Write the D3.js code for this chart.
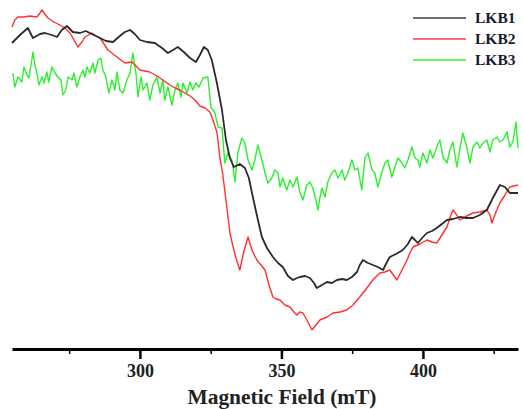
<!DOCTYPE html>
<html>
<head>
<meta charset="utf-8">
<script src="https://cdn.jsdelivr.net/npm/d3@7"></script>
<style>
  body { margin: 0; background: #fff; }
  svg { display: block; }
  .axis text { font-family: "Liberation Serif", "Times New Roman", serif; font-weight: bold; }
</style>
</head>
<body>
<svg id="epr" width="523" height="409"></svg>
<script>
// EPR spectra, field in mT, intensity in arbitrary units
var lkb1Field = [254.8,257.6,260.4,262.2,264.7,266.4,268.9,270.7,272.4,274.2,276.3,278.8,280.9,283.0,285.9,288.0,290.5,292.9,294.7,296.5,298.2,300.0,302.5,305.3,307.8,309.9,311.7,313.4,315.5,317.7,319.8,321.2,322.6,324.0,325.4,327.2,329.0,330.4,331.8,333.2,335.3,337.1,338.5,339.9,341.7,343.1,344.9,347.0,348.8,350.5,352.3,354.1,355.5,356.5,358.3,360.1,361.5,362.5,364.3,366.1,367.8,369.6,371.4,373.1,374.9,376.7,377.7,378.8,380.6,382.3,384.1,385.9,387.3,388.3,390.5,392.9,394.7,396.1,397.2,398.2,399.7,401.4,403.2,404.9,406.7,408.5,410.6,413.1,415.5,417.7,420.1,422.6,424.7,427.2,429.0,430.7,433.6];
var lkb1Signal = [306,314,321,311,315,316,314,312,319,323,317,316,318,315,311,308,307,313,317,319,315,309,307,306,301,296,299,302,297,291,287,294,302,299,289,266,239,209,191,182,185,181,171,152,129,112,101,92,86,82,73,69,71,72,73,71,66,61,64,67,66,69,70,69,72,77,84,89,86,84,82,79,87,92,95,99,105,112,109,106,111,116,118,121,125,129,130,132,131,131,134,139,151,164,162,156,156];

var lkb2Field = [254.8,255.8,256.9,259.0,261.1,263.6,264.7,265.4,266.4,267.5,269.6,271.7,273.5,275.3,276.7,278.1,279.5,280.6,283.0,284.5,285.9,287.3,288.7,290.5,291.9,293.3,294.7,297.2,298.6,300.0,303.5,306.0,308.1,310.6,312.4,314.1,315.9,317.7,319.4,321.2,323.0,324.7,325.8,327.2,328.3,329.3,330.4,331.8,333.6,335.3,336.7,338.2,339.6,341.3,342.8,344.2,345.6,347.0,348.1,349.5,351.2,353.0,354.4,355.5,356.5,357.6,359.0,360.8,362.2,363.6,366.1,368.2,370.7,373.1,375.3,377.7,380.2,382.3,383.7,384.8,386.6,388.3,389.8,390.8,392.6,394.4,395.4,396.5,398.9,401.4,403.2,404.9,406.7,408.5,409.5,410.6,412.0,413.1,415.5,417.7,420.1,422.6,423.7,424.4,425.8,427.2,429.0,430.7,433.6];
var lkb2Signal = [322,329,332,332,333,332,336,339,335,331,327,324,321,316,309,302,307,312,316,313,311,305,299,295,292,289,286,287,283,279,277,273,269,264,261,259,256,253,249,243,241,237,229,217,191,174,149,116,94,79,97,112,99,89,84,79,64,52,50,49,44,42,37,34,37,36,29,19,24,29,32,36,37,39,44,52,61,69,73,76,77,79,73,69,79,89,96,102,105,109,107,106,114,122,131,139,134,129,133,136,137,139,134,126,137,146,154,162,164];

var lkb3Field = [255.1,255.8,256.9,258.3,259.0,260.1,260.8,261.8,262.2,262.9,263.6,264.3,265.4,266.1,267.1,267.8,268.9,270.0,271.0,272.1,272.8,273.8,274.6,276.0,276.7,277.7,278.8,279.9,280.6,281.3,282.3,283.4,284.1,285.2,286.2,286.9,288.0,289.0,290.1,291.2,291.9,292.9,294.0,295.4,296.5,297.5,298.6,299.3,300.4,301.1,302.5,303.5,304.6,306.0,307.1,308.1,308.8,309.9,311.3,312.4,313.4,314.5,315.2,316.6,317.7,318.7,319.8,320.9,322.3,324.0,325.1,326.5,327.6,329.0,330.0,331.1,332.5,333.6,334.6,336.0,337.1,338.2,339.6,340.6,341.7,343.1,344.2,345.2,346.6,347.7,348.8,349.5,350.5,351.9,353.0,354.1,355.5,356.5,357.6,359.0,360.1,361.1,362.2,362.9,363.6,364.3,365.4,366.4,367.8,368.9,370.0,371.4,372.4,373.5,374.9,376.0,377.0,378.4,379.5,380.6,382.0,383.0,384.1,385.5,386.6,387.6,389.0,390.1,391.2,392.6,393.6,394.7,396.1,397.2,398.2,398.9,400.0,401.4,402.5,403.5,404.9,406.0,407.1,408.5,409.5,410.6,412.0,413.1,414.1,415.5,416.6,417.7,419.1,420.1,421.2,422.6,423.7,424.7,426.2,427.2,428.3,429.7,430.7,431.8,432.9,433.6];
var lkb3Signal = [276,262,272,267,282,274,271,289,297,284,276,264,272,266,277,267,282,276,272,269,254,259,272,269,276,262,272,279,272,282,276,286,276,289,291,279,272,256,269,259,277,259,256,269,276,296,276,252,272,259,266,249,264,272,256,269,249,262,244,259,266,252,266,256,267,259,266,262,271,272,242,236,222,221,186,196,189,167,196,211,206,189,179,189,204,189,176,166,171,179,176,162,171,159,169,162,172,157,149,164,167,161,149,139,151,161,152,167,176,179,171,179,169,176,189,179,181,159,191,196,179,176,162,177,186,189,172,182,191,186,181,189,202,191,189,182,196,186,199,191,202,209,192,186,199,207,182,201,216,202,186,202,207,201,206,209,197,209,212,207,209,217,202,207,227,201];

var seriesNames = ["LKB1", "LKB2", "LKB3"];
var seriesColors = ["#2b2b2b", "#ff3030", "#2cf02c"];
var majorTicks = [300, 350, 400];
var minorTicks = [275, 325, 375, 425];

var svg = d3.select("#epr"),
    xScale = d3.scaleLinear().domain([254.8, 433.6]).range([12, 518]),
    yScale = d3.scaleLinear().domain([0, 340]).range([349, 9]);

var series = [
  {name: seriesNames[0], field: lkb1Field, signal: lkb1Signal},
  {name: seriesNames[1], field: lkb2Field, signal: lkb2Signal},
  {name: seriesNames[2], field: lkb3Field, signal: lkb3Signal}
];

var line = d3.line()
    .x(function(d) { return xScale(d[0]); })
    .y(function(d) { return yScale(d[1]); });

// draw green first so black and red sit on top of it
[2, 1, 0].forEach(function(i) {
  var s = series[i];
  svg.append("path")
      .datum(d3.zip(s.field, s.signal))
      .attr("fill", "none")
      .attr("stroke", seriesColors[i])
      .attr("stroke-width", i == 0 ? 1.8 : 1.4)
      .attr("stroke-linejoin", "round")
      .attr("d", line);
});

// minor ticks
svg.append("g")
    .attr("transform", "translate(0,349)")
    .call(d3.axisBottom(xScale).tickValues(minorTicks).tickSize(5).tickSizeOuter(0).tickFormat(""))
    .call(function(g) { g.select(".domain").remove(); })
    .selectAll("line").attr("stroke-width", 1.5);

// main axis
var xAxis = svg.append("g")
    .attr("class", "axis")
    .attr("transform", "translate(0,349)")
    .call(d3.axisBottom(xScale).tickValues(majorTicks).tickSize(10).tickSizeOuter(0).tickPadding(5));

xAxis.select(".domain").attr("stroke-width", 3);
xAxis.selectAll(".tick line").attr("stroke-width", 2.5);
xAxis.selectAll(".tick text").attr("font-size", 18).attr("fill", "#222");

xAxis.append("text")
    .attr("x", 282)
    .attr("y", 55)
    .attr("fill", "#222")
    .attr("font-size", 20)
    .attr("text-anchor", "middle")
    .attr("textLength", 189)
    .attr("lengthAdjust", "spacingAndGlyphs")
    .text("Magnetic Field (mT)");

// legend
var legend = svg.append("g")
    .selectAll("g")
    .data(seriesNames)
    .enter().append("g")
    .attr("transform", function(d, i) { return "translate(0," + (18 + i * 21) + ")"; });

legend.append("line")
    .attr("x1", 413)
    .attr("x2", 466)
    .attr("stroke", function(d, i) { return seriesColors[i]; })
    .attr("stroke-width", function(d, i) { return i == 0 ? 1.4 : 2.2; })
    .attr("opacity", function(d, i) { return i == 0 ? 0.9 : 0.7; });

legend.append("text")
    .attr("x", 475)
    .attr("dy", "0.35em")
    .attr("font-family", "Liberation Serif, serif")
    .attr("font-weight", "bold")
    .attr("font-size", 15.5)
    .attr("fill", "#1a1a2e")
    .text(function(d) { return d; });
</script>
</body>
</html>
